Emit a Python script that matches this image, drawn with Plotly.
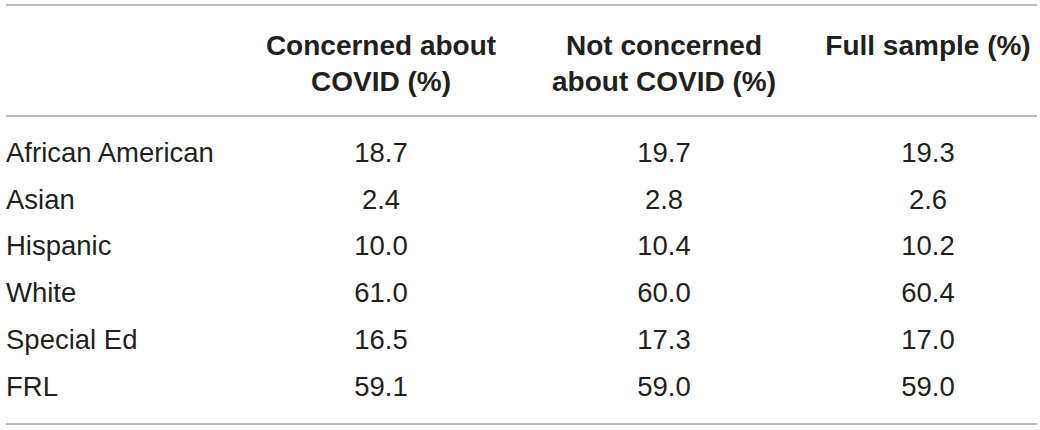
import plotly.graph_objects as go

# table content
row_labels = ["African American", "Asian", "Hispanic", "White", "Special Ed", "FRL"]
col_headers = ["Concerned about<br>COVID (%)", "Not concerned<br>about COVID (%)", "Full sample (%)"]
concerned = [18.7, 2.4, 10.0, 61.0, 16.5, 59.1]
not_concerned = [19.7, 2.8, 10.4, 60.0, 17.3, 59.0]
full_sample = [19.3, 2.6, 10.2, 60.4, 17.0, 59.0]

TEXT = "#231f20"
RULE = "#a3a3a3"
FONT = "Liberation Sans, Arial, Helvetica, sans-serif"
FS = 27.5
FS_HEAD = 28

# layout (pixel space)
label_x = 6
col_x = [381, 664, 928]
row_y0, row_dy = 155, 46.8
header_top = 34
rules_y = [5, 116, 424]

row_y = [row_y0 + i * row_dy for i in range(len(row_labels))]

fig = go.Figure()
fig.add_trace(go.Scatter(
    x=[label_x] * len(row_labels), y=row_y, text=row_labels,
    mode="text", textposition="middle right",
    textfont=dict(family=FONT, size=FS, color=TEXT), hoverinfo="skip",
))
for cx, vals in zip(col_x, [concerned, not_concerned, full_sample]):
    fig.add_trace(go.Scatter(
        x=[cx] * len(vals), y=row_y, text=[f"{v:.1f}" for v in vals],
        mode="text", textposition="middle center",
        textfont=dict(family=FONT, size=FS, color=TEXT), hoverinfo="skip",
    ))
fig.add_trace(go.Scatter(
    x=col_x, y=[header_top] * len(col_headers),
    text=[f"<b>{h}</b>" for h in col_headers],
    mode="text", textposition="bottom center",
    textfont=dict(family=FONT, size=FS_HEAD, color=TEXT), hoverinfo="skip",
))

for ry in rules_y:
    fig.add_shape(type="line", x0=6, x1=1037, y0=ry, y1=ry,
                  line=dict(color=RULE, width=1.5))

fig.update_xaxes(range=[0, 1040], visible=False)
fig.update_yaxes(range=[430, 0], visible=False)
fig.update_layout(
    width=1040, height=430, margin=dict(l=0, r=0, t=0, b=0),
    paper_bgcolor="white", plot_bgcolor="white", showlegend=False,
)
# drop the default 8px page margin so the table fills the window
fig.write_html("out.html", config={"displayModeBar": False},
               post_script="document.body.style.margin='0';")
